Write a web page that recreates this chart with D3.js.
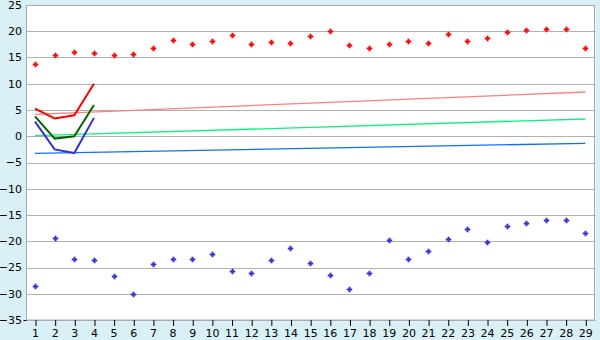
<!DOCTYPE html>
<html><head><meta charset="utf-8">
<script src="https://cdn.jsdelivr.net/npm/d3@7"></script>
<style>body{margin:0;background:#d9f0f7;}svg{display:block;}</style>
</head><body>
<script>
const days = d3.range(1, 30);
const maxPts = [13.7,15.4,16.0,15.8,15.4,15.6,16.9,18.3,17.5,18.1,19.2,17.5,17.9,17.7,19.0,20.0,17.3,16.8,17.5,18.1,17.7,19.4,18.1,18.7,19.8,20.2,20.4,20.4,16.9];
const minPts = [-28.6,-19.4,-23.4,-23.6,-26.7,-30.1,-24.4,-23.4,-23.4,-22.5,-25.7,-26.1,-23.6,-21.2,-24.2,-26.5,-29.0,-26.1,-19.8,-23.3,-21.9,-19.6,-17.7,-20.2,-17.1,-16.6,-16.0,-16.0,-18.5];
const lineDays = [1,2,3,4];
const redLine = [5.25,3.4,4.0,10.0];
const greenLine = [3.8,-0.45,0.0,5.95];
const blueLine = [2.8,-2.5,-3.2,3.5];
const trendPink = [4.17, 8.43];
const trendGreen = [0.1, 3.29];
const trendBlue = [-3.25, -1.35];
const yTicks = [25,20,15,10,5,0,-5,-10,-15,-20,-25,-30,-35];

const W=600,H=340;
const svg=d3.select("body").append("svg").attr("width",W).attr("height",H);
const L=26.5,R=595.5,T=5,B=320;
const x=d3.scalePoint().domain(days).range([35,585.3]);
const y=d3.scaleLinear().domain([-35,25]).range([B,T]);

svg.append("rect").attr("x",L).attr("y",T).attr("width",R-L).attr("height",B-T).attr("fill","#fff");
svg.append("g").selectAll("line").data(yTicks).join("line")
 .attr("x1",L).attr("x2",R).attr("y1",d=>Math.round(y(d))+0.5).attr("y2",d=>Math.round(y(d))+0.5)
 .attr("stroke","#b0b0b0").attr("stroke-width",1);
svg.append("rect").attr("x",L).attr("y",T+0.5).attr("width",R-L-1).attr("height",B-T-0.5).attr("fill","none").attr("stroke","#a8a8a8");
svg.append("line").attr("x1",L-3).attr("x2",L).attr("y1",B+0.5).attr("y2",B+0.5).attr("stroke","#000");

const fmt=d=>d<0?"\u2212"+Math.abs(d):String(d);
svg.append("g").selectAll("text").data(yTicks).join("text")
 .attr("x",22).attr("y",d=>y(d)).attr("dy","0.35em").attr("text-anchor","end")
 .attr("font-family","DejaVu Sans").attr("font-size",11).attr("fill","#000").text(fmt);
const xa=svg.append("g").attr("transform",`translate(0,${B})`)
 .call(d3.axisBottom(x).tickSize(6).tickPadding(3).tickSizeOuter(0));
xa.select(".domain").remove();
xa.selectAll("line").attr("stroke","#000").attr("transform","translate(0.5,0)");
xa.selectAll("text").attr("font-family","DejaVu Sans").attr("font-size",11).attr("fill","#000");

const tr=(arr,col)=>svg.append("line").attr("x1",x(1)).attr("x2",x(29))
 .attr("y1",y(arr[0])).attr("y2",y(arr[1])).attr("stroke",col).attr("stroke-width",1.3);
tr(trendPink,"#ff8080");tr(trendGreen,"#10f080");tr(trendBlue,"#1070f0");

const ln=d3.line().x((d,i)=>x(lineDays[i])).y(d=>y(d));
[[redLine,"#ff0000"],[greenLine,"#006400"],[blueLine,"#3333cc"]].forEach(([a,c])=>
 svg.append("path").attr("d",ln(a)).attr("fill","none").attr("stroke",c).attr("stroke-width",2));

const marker="M-1,-2.75h2v1.75h1.75v2h-1.75v1.75h-2v-1.75h-1.75v-2h1.75z";
const px=v=>Math.round(v)+0.5;
svg.append("g").selectAll("path").data(maxPts).join("path").attr("d",marker)
 .attr("transform",(d,i)=>`translate(${px(x(days[i]))},${px(y(d))})`).attr("fill","#ff0000");
svg.append("g").selectAll("path").data(minPts).join("path").attr("d",marker)
 .attr("transform",(d,i)=>`translate(${px(x(days[i]))},${px(y(d))})`).attr("fill","#3333cc");
</script>
</body></html>
